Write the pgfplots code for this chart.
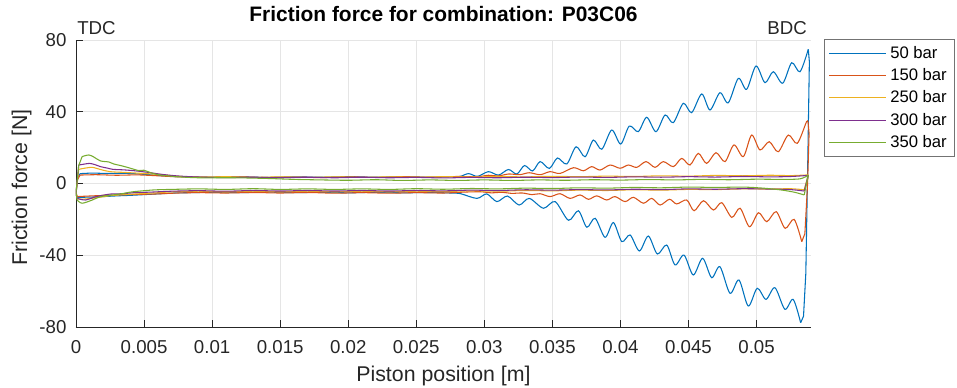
\documentclass[border=0pt]{standalone}
\usepackage{pgfplots}
\pgfplotsset{compat=1.18}
\usepackage{fontspec}
\setmainfont{Liberation Sans}
\definecolor{cA}{rgb}{0,0.447,0.741}
\definecolor{cB}{rgb}{0.85,0.325,0.098}
\definecolor{cC}{rgb}{0.929,0.694,0.125}
\definecolor{cD}{rgb}{0.494,0.184,0.556}
\definecolor{cE}{rgb}{0.466,0.674,0.188}
\definecolor{axc}{rgb}{0.15,0.15,0.15}
\begin{document}
\begin{tikzpicture}
\useasboundingbox (0,0) rectangle (717.75pt,290.25pt);
\begin{axis}[
  at={(57pt,45pt)}, anchor=south west,
  scale only axis, width=551.25pt, height=215.25pt,
  xmin=0, xmax=0.054, ymin=-80, ymax=80,
  axis x line*=bottom, axis y line*=left,
  axis line style={color=axc, line width=0.6pt},
  tick align=inside, major tick length=5pt,
  tick style={color=axc, line width=0.6pt},
  xtick={0,0.005,0.01,0.015,0.02,0.025,0.03,0.035,0.04,0.045,0.05},
  xticklabels={0,0.005,0.01,0.015,0.02,0.025,0.03,0.035,0.04,0.045,0.05},
  scaled x ticks=false,
  ytick={-80,-40,0,40,80},
  yticklabels={-80,-40,0,40,80},
  xticklabel style={font=\fontsize{14}{16}\selectfont, color=axc, anchor=north, inner sep=0pt, yshift=-9.75pt},
  yticklabel style={font=\fontsize{14}{16}\selectfont, color=axc, anchor=east, inner sep=0pt, xshift=-7pt},
  grid=major, major grid style={color=black!10, line width=0.5pt},
  title={Friction force for combination: P03C06},
  title style={font=\bfseries\fontsize{15.7}{18}\selectfont, at={(axis description cs:0.5,1)}, anchor=base, yshift=8pt},
  xlabel={Piston position [m]},
  xlabel style={font=\fontsize{16}{19}\selectfont, color=axc, at={(axis description cs:0.5,0)}, anchor=base, yshift=-40.5pt},
  ylabel={Friction force [N]},
  ylabel style={font=\fontsize{16}{19}\selectfont, color=axc, at={(axis description cs:-0.06667,0.486)}, anchor=base},
  clip mode=individual,
  legend style={at={(axis description cs:1,1)}, anchor=north west, xshift=9.75pt, yshift=0.75pt,
    draw=black!55, line width=0.5pt, fill=white,
    font=\fontsize{12.5}{15}\selectfont,
    inner xsep=3.4pt, inner ysep=3.8pt, row sep=3.1pt,
    nodes={inner xsep=2.6pt, inner ysep=1.5pt},
    cells={anchor=west}},
  legend cell align=left,
  legend image code/.code={\draw[#1, line width=0.7pt] (0pt,0pt) -- (42.75pt,0pt);},
  every axis plot/.append style={line width=0.8pt},
]
% ---------- 50 bar ----------
\addplot[cA, smooth] coordinates {
(0.0003,5.5) (0.0012,5.8) (0.0022,5.6) (0.0032,5.7) (0.0042,5.5) (0.0052,5.0) (0.0062,4.4) (0.0072,3.9)
(0.0085,3.7) (0.0100,3.5) (0.0120,3.7) (0.0140,3.4) (0.0160,3.7) (0.0180,3.5) (0.0200,3.8) (0.0220,3.5)
(0.0240,3.8) (0.0260,3.5) (0.0275,3.8) (0.0282,3.9)
(0.02884,5.5) (0.02950,4.0) (0.0303,6.6) (0.03104,4.7) (0.03177,7.8) (0.03239,5.3) (0.03295,10.0) (0.03355,7.0)
(0.0341,12.2) (0.03478,8.4) (0.03537,14.2) (0.03606,10.9) (0.03674,20.5) (0.0374,14.9) (0.03801,24.2) (0.03863,19.1)
(0.03936,29.8) (0.04002,22.0) (0.04065,32.0) (0.04131,28.9) (0.04193,36.9) (0.04261,28.9) (0.04328,38.2) (0.04388,33.9)
(0.04462,44.7) (0.04523,39.5) (0.04597,49.9) (0.04658,41.0) (0.04731,50.6) (0.04792,45.0) (0.04866,58.6) (0.04927,52.5)
(0.04996,65.5) (0.05062,56.2) (0.05123,62.3) (0.05192,55.9) (0.05258,67.3) (0.05319,62.3) (0.0538,74.8)
};
\addplot[cA, smooth, forget plot] coordinates {
(0.0001,-7.7) (0.0010,-7.6) (0.0020,-7.3) (0.0030,-6.9) (0.0040,-6.6) (0.0050,-6.2) (0.0060,-5.8) (0.0072,-5.3)
(0.0085,-5.1) (0.010,-4.9) (0.012,-5.1) (0.014,-4.8) (0.016,-5.1) (0.018,-4.9) (0.020,-5.2) (0.022,-4.9)
(0.024,-5.2) (0.026,-5.0) (0.0275,-5.3) (0.02822,-5.6)
(0.02945,-8.3) (0.03018,-5.8) (0.03092,-10.1) (0.0317,-7.0) (0.03255,-12.0) (0.0333,-8.3) (0.03434,-13.8) (0.0352,-10.1)
(0.03618,-20.5) (0.03691,-15.2) (0.03753,-24.4) (0.03814,-19.4) (0.03887,-30.0) (0.03948,-21.8) (0.0401,-32.4) (0.04071,-28.7)
(0.04139,-37.6) (0.04205,-29.3) (0.04271,-39.3) (0.0434,-34.3) (0.04401,-45.4) (0.04467,-39.9) (0.04535,-51.0) (0.04604,-41.7)
(0.0467,-52.5) (0.04731,-46.4) (0.04805,-61.2) (0.04871,-53.8) (0.04939,-68.3) (0.05005,-58.4) (0.05069,-64.6) (0.05135,-58.1)
(0.05208,-70.1) (0.05269,-64.6) (0.05324,-77.6)
};
\addplot[cA, forget plot] coordinates {(0.0538,74.8) (0.05388,68) (0.05378,20) (0.05362,-50) (0.05345,-74) (0.05324,-77.6)};
\addplot[cA, forget plot] coordinates {(0.0001,-7.7) (0,-6) (0.0001,2) (0.0003,5.5)};
% ---------- 150 bar ----------
\addplot[cB, smooth] coordinates {
(0.0003,4.7) (0.0015,4.9) (0.003,4.6) (0.0045,4.8) (0.006,4.3) (0.0072,3.8) (0.0085,3.6) (0.010,3.4)
(0.012,3.7) (0.014,3.3) (0.016,3.6) (0.018,3.3) (0.020,3.7) (0.022,3.4) (0.024,3.8) (0.026,3.5) (0.028,3.9)
(0.0295,3.8) (0.0303,4.6) (0.0310,4.2) (0.0318,5.3) (0.0326,4.9) (0.0333,6.0) (0.0341,4.9) (0.03483,6.6)
(0.03556,5.6) (0.03655,8.8) (0.03728,7.1) (0.03789,9.4) (0.0385,7.5) (0.03924,10.3) (0.03997,8.5) (0.04058,10.3)
(0.0412,9.0) (0.04188,12.2) (0.04254,9.0) (0.04315,12.2) (0.04389,9.4) (0.0445,14.0) (0.04511,10.3) (0.04572,16.8)
(0.04633,11.2) (0.04702,17.2) (0.04768,12.2) (0.04834,21.5) (0.04903,15.0) (0.04964,27.0) (0.05025,18.7) (0.05093,23.3)
(0.05159,17.7) (0.05233,27.0) (0.05299,22.4) (0.05368,34.5) (0.0538,33)
};
\addplot[cB, smooth, forget plot] coordinates {
(0.0001,-7.3) (0.0012,-6.9) (0.003,-6.4) (0.0045,-6.1) (0.006,-5.8) (0.0075,-5.3) (0.009,-5.1) (0.011,-5.3)
(0.013,-5.0) (0.015,-5.3) (0.017,-5.0) (0.019,-5.4) (0.021,-5.1) (0.023,-5.4) (0.025,-5.1) (0.027,-5.3)
(0.0285,-4.8) (0.0297,-4.6) (0.0305,-5.2) (0.0313,-4.9) (0.032,-5.5) (0.0328,-5.3) (0.0335,-6.2) (0.0341,-5.7)
(0.03483,-7.3) (0.03556,-5.7) (0.0363,-8.3) (0.03703,-6.4) (0.03765,-8.8) (0.03826,-6.9) (0.03899,-9.2) (0.0396,-7.3)
(0.04034,-10.1) (0.04095,-7.7) (0.04169,-11.0) (0.0423,-8.3) (0.04291,-12.0) (0.0436,-8.8) (0.04413,-11.4) (0.04487,-9.2)
(0.04541,-15.2) (0.0461,-9.6) (0.04683,-14.8) (0.04744,-10.7) (0.04818,-18.9) (0.04879,-13.8) (0.04948,-24.1) (0.05014,-16.3)
(0.05075,-21.3) (0.05144,-15.7) (0.0521,-25.0) (0.05276,-20.0) (0.05332,-32.4)
};
\addplot[cB, forget plot] coordinates {(0.0538,33) (0.05386,28) (0.05375,0) (0.05355,-28) (0.05332,-32.4)};
\addplot[cB, forget plot] coordinates {(0.0001,-7.3) (0,-5) (0.0001,2) (0.0003,4.7)};
% ---------- 250 bar ----------
\addplot[cC, smooth] coordinates {
(0.0002,7.9) (0.0007,8.6) (0.0012,9.0) (0.0018,7.8) (0.0025,6.6) (0.0035,6.2) (0.0047,5.7) (0.0062,5.0)
(0.0075,4.0) (0.009,3.6) (0.011,3.8) (0.013,3.4) (0.015,3.7) (0.017,3.4) (0.019,3.7) (0.021,3.4) (0.023,3.7)
(0.025,3.5) (0.027,3.8) (0.029,3.6) (0.031,3.9) (0.033,3.7) (0.035,4.0) (0.037,3.8) (0.039,4.1) (0.041,3.9)
(0.043,4.3) (0.045,4.1) (0.047,4.5) (0.049,4.3) (0.051,4.6) (0.0525,4.4) (0.0538,4.8)
};
\addplot[cC, smooth, forget plot] coordinates {
(0.0001,-8.5) (0.0004,-8.8) (0.0011,-8.3) (0.0019,-7.5) (0.0027,-6.6) (0.0040,-6.0) (0.0057,-5.3) (0.0072,-4.6)
(0.009,-4.3) (0.011,-4.6) (0.013,-4.3) (0.015,-4.6) (0.017,-4.3) (0.019,-4.6) (0.021,-4.3) (0.023,-4.6)
(0.025,-4.3) (0.027,-4.5) (0.029,-4.1) (0.031,-4.3) (0.033,-3.9) (0.035,-4.1) (0.037,-3.7) (0.039,-3.9)
(0.041,-3.5) (0.043,-3.7) (0.045,-3.3) (0.047,-3.4) (0.049,-3.0) (0.051,-3.1) (0.0525,-2.9) (0.0535,-3.5)
};
\addplot[cC, forget plot] coordinates {(0.0535,-3.5) (0.0538,4.8)};
\addplot[cC, forget plot] coordinates {(0.0001,-8.5) (0,-6) (0.0002,7.9)};
% ---------- 300 bar ----------
\addplot[cD, smooth] coordinates {
(0.0002,10.3) (0.0006,10.8) (0.0010,11.2) (0.0014,10.5) (0.0018,9.4) (0.0023,8.6) (0.0027,7.9) (0.0035,7.6)
(0.0043,7.1) (0.0053,6.2) (0.0063,5.1) (0.0075,4.2) (0.009,3.6) (0.011,3.3) (0.013,3.5) (0.015,3.2) (0.017,3.5)
(0.019,3.2) (0.021,3.5) (0.023,3.2) (0.025,3.4) (0.027,3.1) (0.029,3.4) (0.031,3.2) (0.033,3.5) (0.035,3.3)
(0.037,3.6) (0.039,3.4) (0.041,3.7) (0.043,3.5) (0.045,3.8) (0.047,3.6) (0.049,3.9) (0.051,3.7) (0.0525,3.9) (0.0538,4.5)
};
\addplot[cD, smooth, forget plot] coordinates {
(0.0001,-8.3) (0.0007,-9.2) (0.0015,-7.3) (0.0025,-5.9) (0.0034,-5.7) (0.0043,-5.1) (0.0055,-4.8) (0.007,-4.3)
(0.009,-4.0) (0.011,-4.3) (0.013,-3.9) (0.015,-4.2) (0.017,-3.9) (0.019,-4.2) (0.021,-3.9) (0.023,-4.2)
(0.025,-3.9) (0.027,-4.1) (0.029,-3.7) (0.031,-3.9) (0.033,-3.5) (0.035,-3.7) (0.037,-3.4) (0.039,-3.6)
(0.041,-3.2) (0.043,-3.4) (0.045,-3.0) (0.047,-3.2) (0.049,-2.9) (0.051,-3.1) (0.0525,-3.4) (0.0535,-4.2)
};
\addplot[cD, forget plot] coordinates {(0.0535,-4.2) (0.0538,4.5)};
\addplot[cD, forget plot] coordinates {(0.0001,-8.3) (0,-6) (0.0002,10.3)};
% ---------- 350 bar ----------
\addplot[cE, smooth] coordinates {
(0.00045,15.0) (0.00094,15.9) (0.0013,14.8) (0.00179,12.6) (0.00241,12.0) (0.00277,10.9) (0.00339,9.8) (0.0040,8.5)
(0.00461,7.2) (0.00497,7.4) (0.00558,5.8) (0.00619,4.7) (0.0074,3.8) (0.009,3.2) (0.0116,3.2) (0.0141,2.8)
(0.016,2.3) (0.018,2.0) (0.020,1.8) (0.022,2.1) (0.024,1.7) (0.026,2.0) (0.028,1.7) (0.030,2.0) (0.032,1.7)
(0.034,2.0) (0.036,1.8) (0.038,2.1) (0.040,1.9) (0.042,2.2) (0.044,2.0) (0.046,2.3) (0.048,2.1) (0.050,2.4)
(0.052,2.3) (0.0532,2.6) (0.0538,4.6)
};
\addplot[cE, smooth, forget plot] coordinates {
(0.00008,-9.2) (0.00045,-11.0) (0.0012,-9.2) (0.0018,-7.3) (0.0027,-6.4) (0.0035,-5.5) (0.0042,-4.6) (0.0057,-3.6)
(0.007,-3.3) (0.009,-3.0) (0.011,-3.3) (0.013,-2.9) (0.015,-3.3) (0.017,-3.0) (0.019,-3.3) (0.021,-3.0)
(0.023,-3.3) (0.025,-2.9) (0.027,-3.2) (0.029,-2.8) (0.031,-3.0) (0.033,-2.6) (0.035,-2.8) (0.037,-2.4)
(0.039,-2.6) (0.041,-2.2) (0.043,-2.4) (0.045,-2.0) (0.047,-2.2) (0.049,-2.0) (0.0505,-2.6) (0.0518,-3.6)
(0.0528,-4.9) (0.0535,-6.4)
};
\addplot[cE, forget plot] coordinates {(0.0535,-6.4) (0.0538,4.6)};
\addplot[cE, forget plot] coordinates {(0.00008,-9.2) (0,-5) (0.0002,10) (0.00045,15.0)};
\legend{50 bar,150 bar,250 bar,300 bar,350 bar}
\node[anchor=base west, inner sep=0pt, font=\fontsize{14}{16}\selectfont, color=axc, xshift=0.75pt, yshift=3.75pt] at (axis description cs:0,1) {TDC};
\node[anchor=base east, inner sep=0pt, font=\fontsize{14}{16}\selectfont, color=axc, xshift=-3pt, yshift=3.75pt] at (axis description cs:1,1) {BDC};
\end{axis}
\end{tikzpicture}
\end{document}
